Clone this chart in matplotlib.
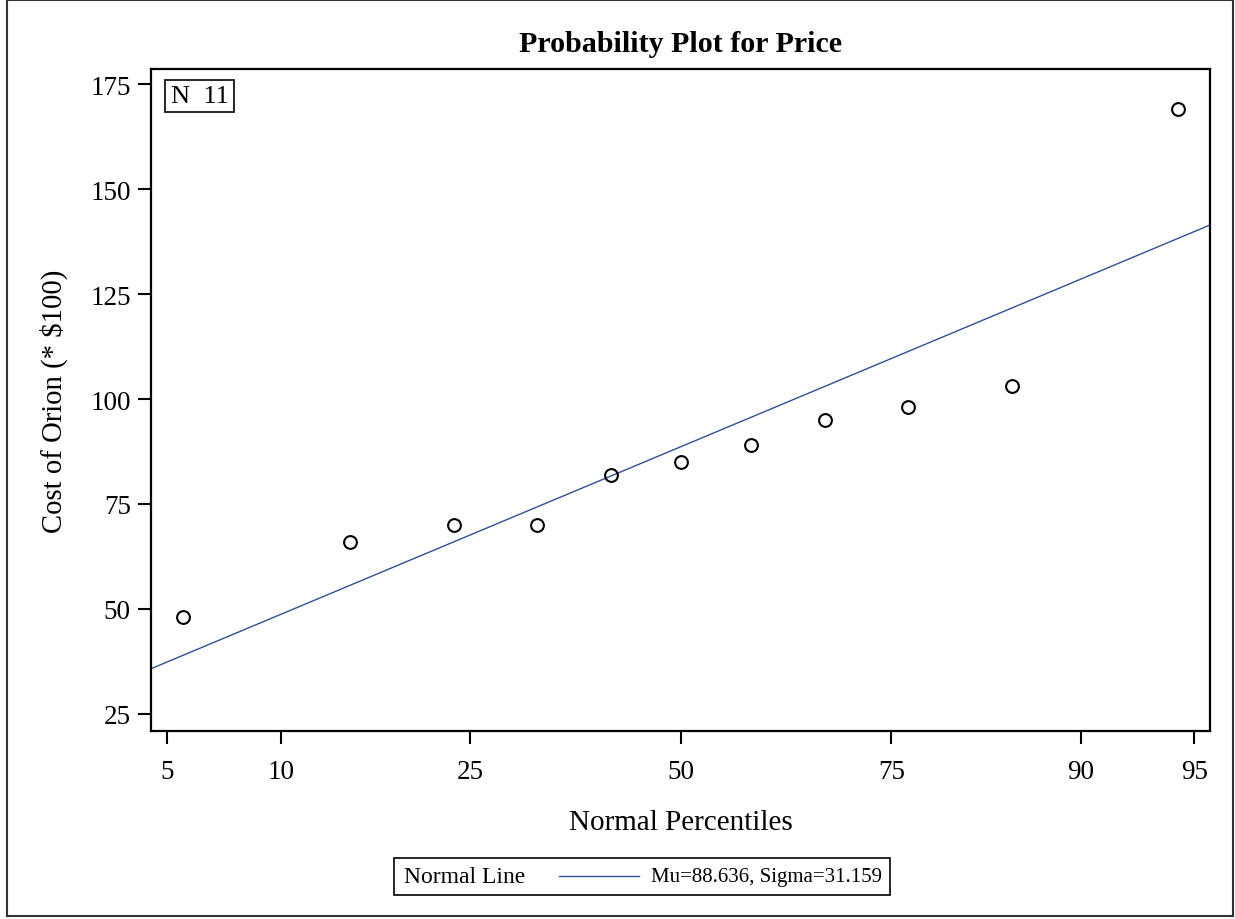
import matplotlib
matplotlib.use("Agg")
import matplotlib.pyplot as plt
from matplotlib.patches import Rectangle
from matplotlib.lines import Line2D
from statistics import NormalDist, mean, stdev

# Orion prices (hundreds of dollars), sorted
price = [48, 66, 70, 70, 82, 85, 89, 95, 98, 103, 169]
pct_ticks = [5, 10, 25, 50, 75, 90, 95]
pct_labels = ["5", "10", "25", "50", "75", "90", "95"]
y_ticks = [25, 50, 75, 100, 125, 150, 175]

plt.rcParams["font.family"] = ["Liberation Serif", "DejaVu Serif"]

nd = NormalDist()
n = len(price)
# Blom plotting positions -> normal quantiles
z = [nd.inv_cdf((i + 1 - 0.375) / (n + 0.25)) for i in range(n)]
mu = mean(price)
sigma = stdev(price)

W, H = 1235, 920
fig = plt.figure(figsize=(W / 100, H / 100), dpi=100)


def fx(px):
    return px / W


def fy(py):
    return 1 - py / H


ax = fig.add_axes([fx(151), fy(731.7), fx(1210) - fx(151), fy(70) - fy(731.7)])

zlo, zhi = -1.697, 1.695
ax.set_xlim(zlo, zhi)
ax.set_ylim(21.0, 178.6)

line_color = "#2f5096"
# fitted normal line
ax.plot([zlo, zhi], [mu + sigma * zlo, mu + sigma * zhi], color=line_color, lw=1.0, zorder=2)
ax.plot(z, price, linestyle="none", marker="o", markersize=9.2, markerfacecolor="none",
        markeredgecolor="black", markeredgewidth=1.5, zorder=3)

ax.set_xticks([nd.inv_cdf(p / 100) for p in pct_ticks])
ax.set_xticklabels(pct_labels)
ax.set_yticks(y_ticks)
ax.tick_params(axis="both", direction="out", length=9.5, width=1.5, labelsize=19.5, color="black")
ax.tick_params(axis="x", pad=11)
ax.tick_params(axis="y", pad=5)
for s in ax.spines.values():
    s.set_linewidth(1.6)

ax.set_xlabel("Normal Percentiles", fontsize=21, labelpad=18)
ax.set_ylabel("Cost of Orion (* $100)", fontsize=20.7, labelpad=16)
ax.set_title("Probability Plot for Price", fontsize=21.6, fontweight="bold", pad=13)

# sample size inset
ax.text(0.0185, 0.976, "N  11", transform=ax.transAxes, fontsize=19, va="top", ha="left",
        bbox=dict(boxstyle="square,pad=0.2", facecolor="white", edgecolor="black", linewidth=1.2))

# legend box at the bottom
fig.add_artist(Rectangle((fx(394), fy(896)), fx(890) - fx(394), fy(859) - fy(896),
                         transform=fig.transFigure, facecolor="white", edgecolor="black", lw=1.2))
fig.text(fx(404), fy(877.5), "Normal Line", fontsize=17, va="center", ha="left")
fig.add_artist(Line2D([fx(559), fx(639)], [fy(877), fy(877)], transform=fig.transFigure,
                      color=line_color, lw=1.0))
fig.text(fx(651), fy(877.5), "Mu=88.636, Sigma=31.159", fontsize=15, va="center", ha="left")

# outer frame
fig.add_artist(Rectangle((fx(7), fy(917)), fx(1233) - fx(7), fy(1) - fy(917),
                         transform=fig.transFigure, facecolor="none", edgecolor="#333333", lw=1.5))

fig.savefig("out.png", dpi=100)
